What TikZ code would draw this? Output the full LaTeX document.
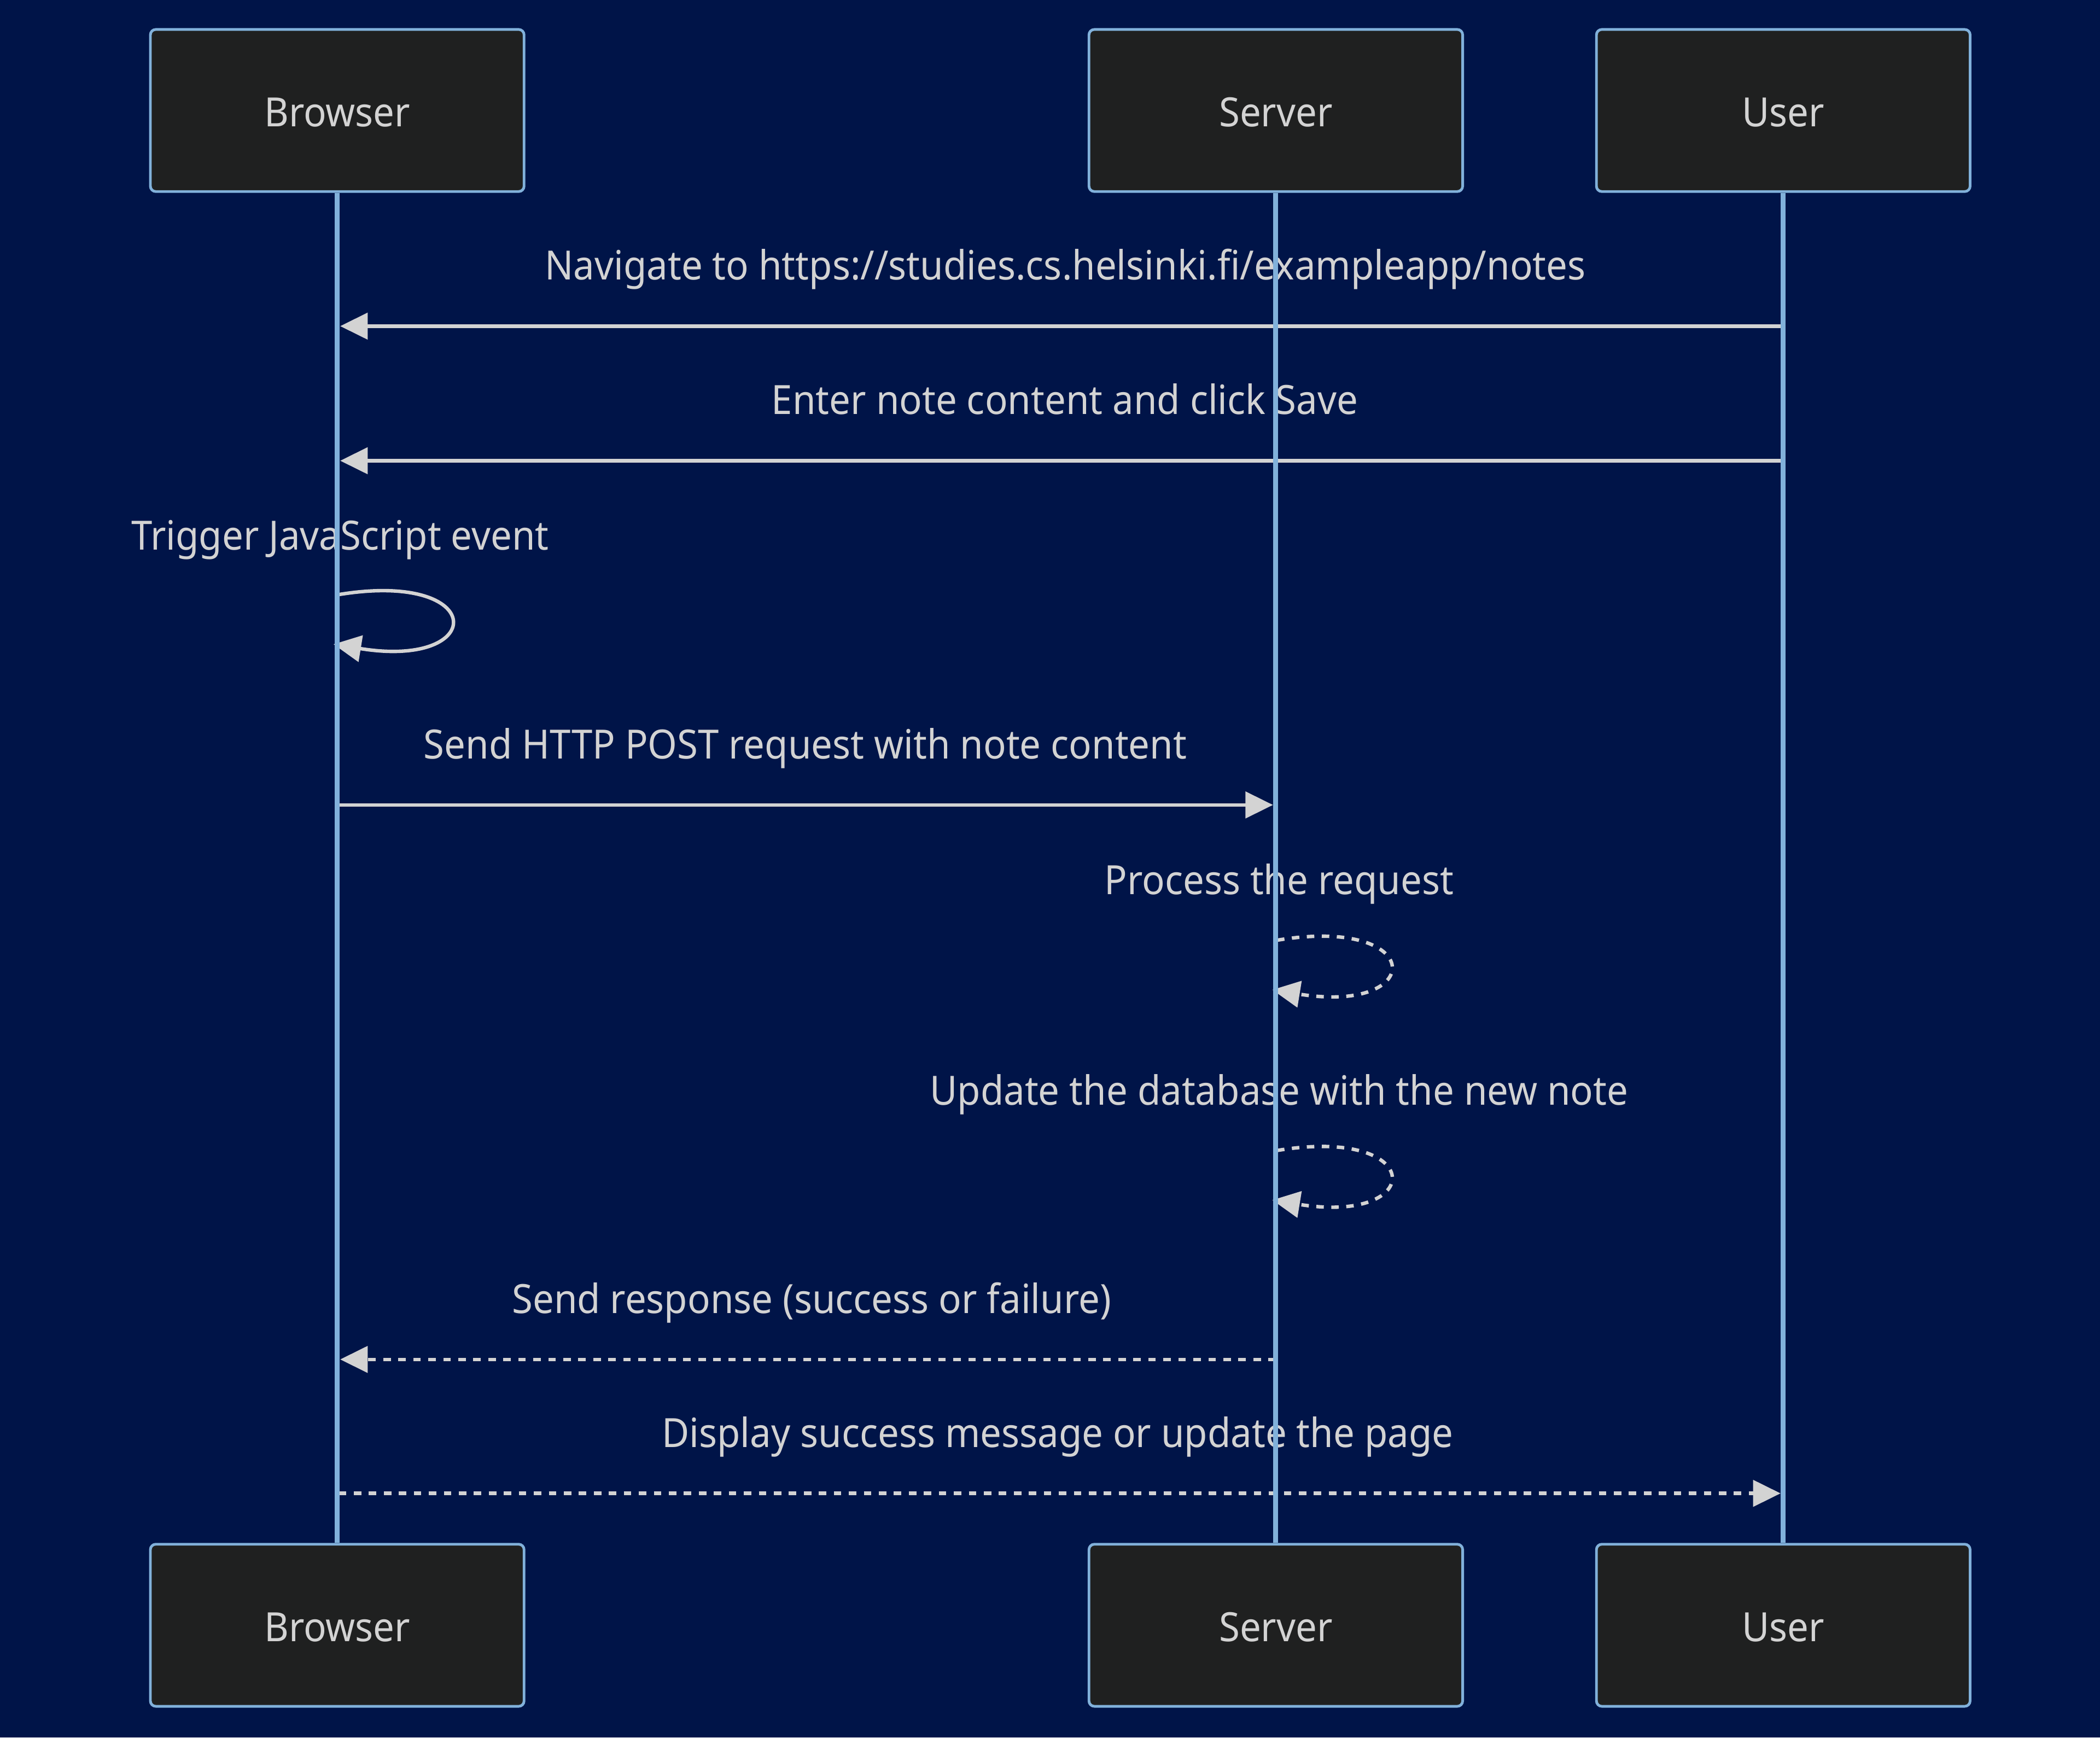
\documentclass[tikz,border=0pt]{standalone}
\usepackage{fontspec}
\setmainfont[FakeStretch=0.935]{Noto Sans}
\usetikzlibrary{arrows.meta}
\definecolor{bg}{RGB}{0,20,72}
\definecolor{boxfill}{HTML}{1F2020}
\definecolor{lifeblue}{HTML}{81B1DB}
\definecolor{sig}{HTML}{D3D3D3}
\begin{document}
\begin{tikzpicture}[x=0.5pt,y=-0.5pt,
  txt/.style={text=sig, font=\fontsize{15.05}{18}\selectfont},
  actorbox/.style={txt, draw=lifeblue, line width=1pt, fill=boxfill, rounded corners=2pt,
    minimum width=139.5pt, minimum height=60.5pt, inner sep=0pt,
    text height=11.9pt, text depth=0pt},
  lifeline/.style={draw=lifeblue, line width=1.85pt},
  msg/.style={draw=sig, line width=1.3pt, -{Triangle[length=10.3pt,width=9.8pt]}},
  dmsg/.style={msg, dash pattern=on 2.8pt off 2.8pt},
  msglabel/.style={txt, anchor=base, inner sep=0pt}]
\useasboundingbox (0,0) rectangle (1568,1297.3);
\fill[bg] (0,0) rectangle (1568,1297.3);

% actors
\node[actorbox] (bt) at (251.8,82.5) {Browser};
\node[actorbox] (st) at (952.6,82.5) {Server};
\node[actorbox] (ut) at (1331.5,82.5) {User};
\node[actorbox] (bb) at (251.8,1213.5) {Browser};
\node[actorbox] (sb) at (952.6,1213.5) {Server};
\node[actorbox] (ub) at (1331.5,1213.5) {User};

% message labels
\node[msglabel] (l1) at (795.4,209) {Navigate to https://studies.cs.helsinki.fi/exampleapp/notes};
\node[msglabel] (l2) at (795,309.5) {Enter note content and click Save};
\node[msglabel] (l3) at (254,410.5) {Trigger JavaScript event};
\node[msglabel] (l4) at (601.3,566.5) {Send HTTP POST request with note content};
\node[msglabel] (l5) at (955,668) {Process the request};
\node[msglabel] (l6) at (955,825) {Update the database with the new note};
\node[msglabel] (l7) at (606,980.5) {Send response (success or failure)};
\node[msglabel] (l8) at (789.7,1080.5) {Display success message or update the page};

% message end points
\coordinate (m1a) at (1331.5,243.5); \coordinate (m1b) at (254,243.5);
\coordinate (m2a) at (1331.5,344);   \coordinate (m2b) at (254,344);
\coordinate (m3a) at (252.5,444);    \coordinate (m3b) at (249,481);
\coordinate (m4a) at (253,601);      \coordinate (m4b) at (950.5,601);
\coordinate (m5a) at (953.5,702);    \coordinate (m5b) at (950,739);
\coordinate (m6a) at (953.5,859);    \coordinate (m6b) at (950,896);
\coordinate (m7a) at (952.6,1015);   \coordinate (m7b) at (254,1015);
\coordinate (m8a) at (253,1115);     \coordinate (m8b) at (1329.5,1115);

% messages
\draw[msg] (m1a) -- (m1b);
\draw[msg] (m2a) -- (m2b);
\draw[msg] (m3a) .. controls (364.5,425.4) and (364.5,499.8) .. (m3b);
\draw[msg] (m4a) -- (m4b);
\draw[dmsg] (m5a) .. controls (1065.5,683.4) and (1065.5,757.8) .. (m5b);
\draw[dmsg] (m6a) .. controls (1065.5,840.4) and (1065.5,914.8) .. (m6b);
\draw[dmsg] (m7a) -- (m7b);
\draw[dmsg] (m8a) -- (m8b);

% lifelines
\draw[lifeline] (bt.south) -- (bb.north);
\draw[lifeline] (st.south) -- (sb.north);
\draw[lifeline] (ut.south) -- (ub.north);
\end{tikzpicture}
\end{document}
